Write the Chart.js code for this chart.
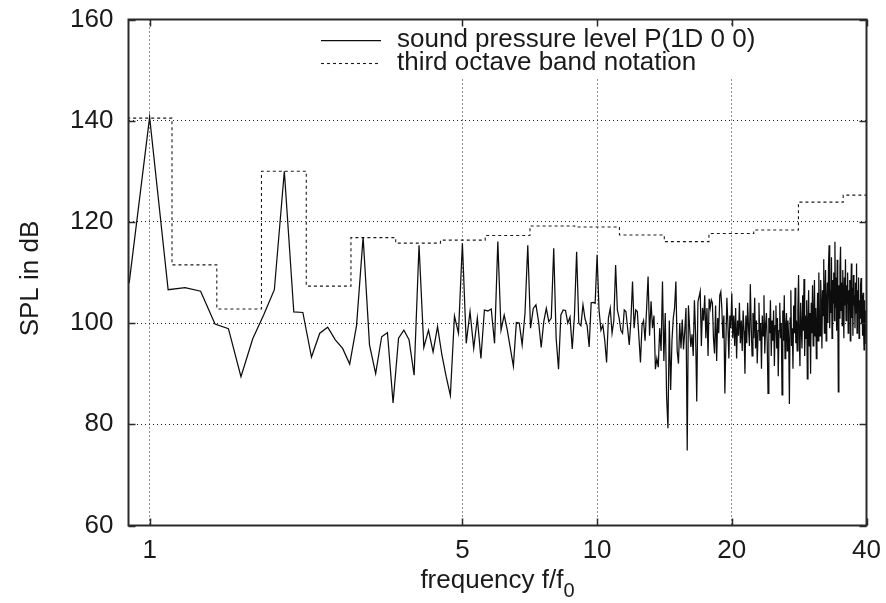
<!DOCTYPE html>
<html>
<head>
<meta charset="utf-8">
<title>SPL spectrum</title>
<script src="https://cdn.jsdelivr.net/npm/chart.js@4.4.1/dist/chart.umd.min.js"></script>
<style>
  html, body { margin: 0; padding: 0; background: #fff; }
  #wrap { width: 886px; height: 603px; }
</style>
</head>
<body>
<div id="wrap"><canvas id="spl" width="886" height="603"></canvas></div>
<script>
// spectrum bins start at f/f0 = 0.9, one bin every 0.1 f0
const binStart = 0.9;
const binStep = 0.1;

// SPL in dB, one row per f0 (n.0 ... n.9)
const splLevels = [
  107.9,
  140.7, 106.6, 107.0, 106.3, 99.8, 98.9, 89.4, 96.9, 101.7, 106.6,
  130.0, 102.2, 102.1, 93.3, 98.0, 99.2, 96.7, 95.0, 91.9, 99.5,
  117.0, 95.7, 90.0, 97.3, 98.1, 84.2, 97.0, 98.6, 96.7, 89.7,
  115.4, 95.2, 98.6, 94.3, 99.3, 93.7, 89.4, 85.7, 101.4, 98.0,
  115.8, 96.0, 102.3, 95.0, 101.0, 93.0, 102.6, 102.4, 102.8, 96.0,
  116.1, 98.6, 101.6, 98.6, 95.0, 91.5, 100.1, 100.0, 95.7, 101.9,
  115.4, 99.0, 102.9, 103.6, 100.3, 95.2, 100.3, 102.9, 100.3, 101.0,
  114.8, 97.0, 90.9, 101.6, 102.6, 102.5, 100.0, 101.2, 94.9, 101.5,
  114.1, 100.0, 99.5, 103.6, 100.8, 99.5, 95.3, 104.0, 104.1, 103.9,
  113.5, 102.6, 98.6, 99.6, 96.7, 92.2, 101.0, 102.9, 98.0, 100.5,
  111.5, 102.6, 101.0, 98.6, 98.0, 102.6, 102.3, 99.0, 95.7, 100.5,
  108.2, 99.0, 102.6, 102.3, 97.3, 92.2, 99.5, 100.5, 96.5, 102.8,
  109.2, 97.5, 104.3, 99.0, 101.5, 90.9, 93.0, 91.3, 99.0, 94.5,
  108.2, 92.5, 102.0, 85.5, 79.2, 100.5, 86.8, 96.5, 101.0, 103.0,
  108.2, 94.5, 92.0, 100.0, 95.0, 100.7, 94.8, 98.5, 103.0, 74.8,
  103.5, 99.0, 95.3, 97.8, 93.5, 104.5, 98.0, 84.5, 104.2, 105.2,
  106.3, 95.5, 103.0, 100.5, 105.5, 97.0, 103.0, 93.5, 104.8, 103.0,
  104.6, 104.0, 97.0, 94.0, 103.5, 92.5, 101.0, 98.0, 105.5, 106.2,
  103.0, 97.0, 101.5, 86.1, 96.0, 105.0, 100.0, 93.0, 101.5, 99.0,
  105.9, 97.0, 101.5, 95.5, 103.0, 93.0, 100.5, 97.5, 104.0, 96.0,
  100.5, 94.5, 102.5, 98.5, 90.0, 101.5, 96.0, 104.0, 99.0, 95.5,
  107.7, 99.5, 93.5, 102.0, 97.0, 105.0, 95.0, 100.5, 92.0, 98.5,
  104.0, 96.5, 100.0, 91.0, 101.5, 97.5, 105.5, 94.0, 99.5, 102.0,
  96.0, 86.1, 101.0, 98.0, 104.5, 93.5, 100.5, 96.5, 102.5, 91.5,
  99.5, 103.5, 95.0, 101.0, 89.5, 98.5, 104.0, 97.0, 100.0, 85.8,
  102.5, 96.5, 105.5, 93.0, 99.5, 102.0, 94.5, 100.5, 97.0, 84.0,
  101.0, 106.5, 95.5, 99.0, 91.0, 103.5, 98.0, 107.0, 96.0, 100.5,
  94.5, 102.5, 109.5, 97.0, 91.5, 104.0, 99.0, 95.0, 105.5, 98.5,
  108.7, 93.5, 101.5, 97.0, 104.5, 89.0, 100.0, 106.5, 95.5, 102.0,
  90.0, 104.0, 98.0, 107.5, 95.5, 101.0, 108.5, 97.5, 103.0, 93.0,
  99.5, 106.0, 96.5, 110.0, 101.0, 97.5, 108.5, 103.5, 95.0, 106.5,
  101.5, 112.6, 98.0, 105.0, 110.5, 96.5, 103.0, 108.0, 100.0, 111.5,
  115.4, 99.0, 106.5, 102.0, 113.0, 97.0, 108.5, 104.0, 110.0, 100.5,
  116.1, 103.0, 109.0, 98.5, 112.5, 105.0, 86.4, 107.5, 101.0, 111.0,
  115.1, 102.5, 108.0, 99.5, 110.5, 104.5, 97.0, 109.0, 103.5, 112.6,
  100.5, 107.5, 104.0, 110.0, 98.0, 106.5, 102.5, 108.5, 96.5, 105.5,
  111.8, 101.0, 107.0, 97.5, 109.5, 103.5, 105.5, 99.0, 108.0, 102.0,
  111.8, 98.0, 106.5, 103.0, 109.0, 97.0, 104.5, 101.0, 107.5, 108.9,
  100.0, 105.5, 97.5, 106.0, 99.0, 94.7, 104.5, 98.5, 102.5, 96.0,
  100.6
];

// third octave bands: lower band edges (f/f0) and band level in dB
const bandEdges  = [0.708, 0.891, 1.122, 1.413, 1.778, 2.239, 2.818, 3.548, 4.467, 5.623,
                    7.079, 8.913, 11.22, 14.13, 17.78, 22.39, 28.18, 35.48, 44.67];
const bandLevels = [107.5, 140.5, 111.5, 102.8, 130.0, 107.3, 116.9, 115.8, 116.4, 117.3,
                    119.2, 119.0, 117.4, 116.1, 117.7, 118.4, 123.9, 125.3, 125.3];

const xTicks = [1, 5, 10, 20, 40];
const yTicks = [60, 80, 100, 120, 140, 160];

const seriesLabels = ['sound pressure level P(1D 0 0)', 'third octave band notation'];

const FONT = "'Liberation Sans', Arial, Helvetica, sans-serif";
const TEXT = '#1a1a1a';
const GRID = '#1e1e1e';

const splPoints = splLevels.map((v, i) => ({ x: +(binStart + i * binStep).toFixed(1), y: v }));
const bandPoints = bandEdges.map((f, i) => ({ x: f, y: bandLevels[i] }));

// keep tick labels from pushing the plot frame inwards
function noLabelOverflow(scale) {
  scale.paddingTop = 0;
  scale.paddingBottom = 0;
  scale.paddingLeft = 0;
  scale.paddingRight = 0;
}

// gnuplot-like frame: inward ticks on all four sides, key box, axis labels
const gnuplotFrame = {
  id: 'gnuplotFrame',
  afterDatasetsDraw(chart) {
    const ctx = chart.ctx;
    const sets = chart.data.datasets;
    ctx.save();
    // key (white box hides grid behind it)
    ctx.fillStyle = '#fff';
    ctx.fillRect(312, 27, 440, 52);
    sets.forEach((ds, i) => {
      const y = 40 + i * 23;
      ctx.strokeStyle = ds.borderColor;
      ctx.lineWidth = ds.borderWidth;
      ctx.setLineDash(ds.borderDash || []);
      ctx.beginPath();
      ctx.moveTo(321, y + 0.5);
      ctx.lineTo(381, y + 0.5);
      ctx.stroke();
      ctx.setLineDash([]);
      ctx.fillStyle = TEXT;
      ctx.font = `26px ${FONT}`;
      ctx.textBaseline = 'middle';
      ctx.textAlign = 'left';
      ctx.fillText(ds.label, 397, y);
    });
    ctx.restore();
  },
  afterDraw(chart) {
    const ctx = chart.ctx;
    const a = chart.chartArea;
    const xs = chart.scales.x, ys = chart.scales.y;
    const tick = 7;
    ctx.save();
    ctx.strokeStyle = '#2a2a2a';
    ctx.lineWidth = 1.5;
    ctx.beginPath();
    xTicks.forEach(v => {
      const px = Math.round(xs.getPixelForValue(v)) + 0.5;
      ctx.moveTo(px, a.bottom); ctx.lineTo(px, a.bottom - tick);
      ctx.moveTo(px, a.top); ctx.lineTo(px, a.top + tick);
    });
    yTicks.forEach(v => {
      const py = Math.round(ys.getPixelForValue(v)) + 0.5;
      ctx.moveTo(a.left, py); ctx.lineTo(a.left + tick, py);
      ctx.moveTo(a.right, py); ctx.lineTo(a.right - tick, py);
    });
    ctx.stroke();
    ctx.lineWidth = 2;
    ctx.strokeRect(a.left, a.top, a.right - a.left, a.bottom - a.top);

    // axis titles
    ctx.fillStyle = TEXT;
    ctx.textBaseline = 'alphabetic';
    ctx.textAlign = 'left';
    ctx.font = `26px ${FONT}`;
    const main = 'frequency f/f';
    const wMain = ctx.measureText(main).width;
    ctx.font = `20px ${FONT}`;
    const wSub = ctx.measureText('0').width;
    const x0 = (a.left + a.right) / 2 - (wMain + wSub) / 2;
    ctx.font = `26px ${FONT}`;
    ctx.fillText(main, x0, 588);
    ctx.font = `20px ${FONT}`;
    ctx.fillText('0', x0 + wMain, 597);

    ctx.translate(31, (a.top + a.bottom) / 2 + 6);
    ctx.rotate(-Math.PI / 2);
    ctx.textAlign = 'center';
    ctx.textBaseline = 'middle';
    ctx.font = `26px ${FONT}`;
    ctx.fillText('SPL in dB', 0, 0);
    ctx.restore();
  }
};

new Chart(document.getElementById('spl').getContext('2d'), {
  type: 'line',
  data: {
    datasets: [
      {
        label: seriesLabels[0],
        data: splPoints,
        borderColor: '#0d0d0d',
        borderWidth: 1.25,
        pointRadius: 0,
        tension: 0,
      },
      {
        label: seriesLabels[1],
        data: bandPoints,
        borderColor: '#1a1a1a',
        borderWidth: 1.1,
        borderDash: [3, 3],
        stepped: 'before',
        pointRadius: 0,
      },
    ],
  },
  options: {
    responsive: false,
    devicePixelRatio: 1,
    animation: false,
    layout: { padding: { top: 19.5, right: 19.5, left: 0, bottom: 0 } },
    plugins: {
      legend: { display: false },
      tooltip: { enabled: false },
    },
    scales: {
      x: {
        type: 'logarithmic',
        min: 0.897,
        max: 40,
        afterBuildTicks: scale => { scale.ticks = xTicks.map(v => ({ value: v })); },
        afterFit: scale => { scale.height = 77.5; noLabelOverflow(scale); },
        grid: {
          drawTicks: false,
          lineWidth: 1,
          color: c => (c.tick && c.tick.value === 40 ? 'rgba(0,0,0,0)' : GRID),
        },
        border: { display: false, dash: [1, 3] },
        ticks: {
          autoSkip: false,
          maxRotation: 0,
          padding: 10,
          color: TEXT,
          font: { family: FONT, size: 26 },
          callback: v => String(v),
        },
      },
      y: {
        type: 'linear',
        min: 60,
        max: 160,
        afterBuildTicks: scale => { scale.ticks = yTicks.map(v => ({ value: v })); },
        afterFit: scale => { scale.width = 128.5; noLabelOverflow(scale); },
        grid: {
          drawTicks: false,
          lineWidth: 1,
          color: c => (c.tick && (c.tick.value === 60 || c.tick.value === 160) ? 'rgba(0,0,0,0)' : GRID),
        },
        border: { display: false, dash: [1, 3] },
        ticks: {
          padding: 15,
          color: TEXT,
          font: { family: FONT, size: 26 },
        },
      },
    },
  },
  plugins: [gnuplotFrame],
});
</script>
</body>
</html>
